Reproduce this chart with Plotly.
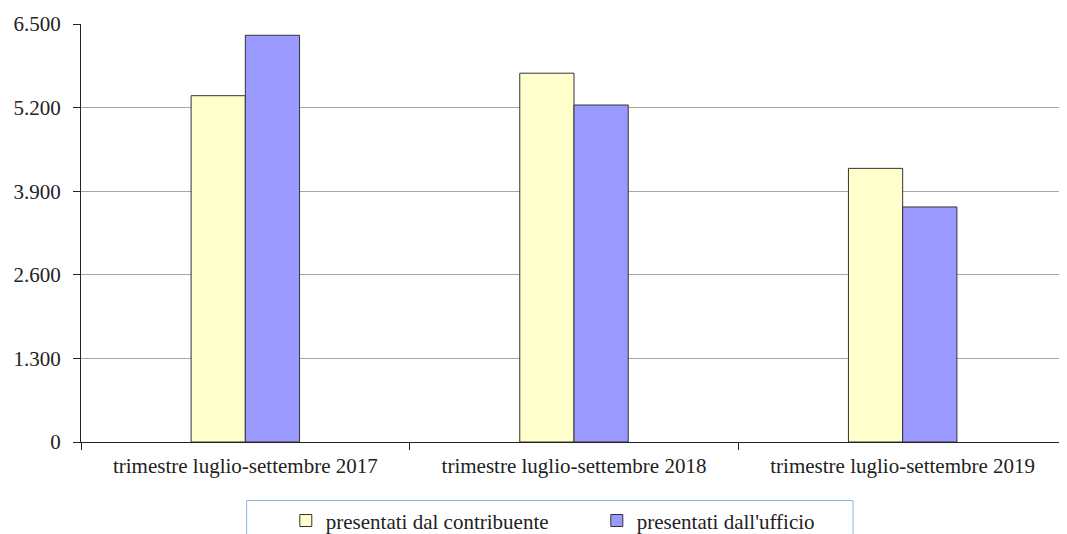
import plotly.graph_objects as go

# dati
periodi = ["trimestre luglio-settembre 2017", "trimestre luglio-settembre 2018", "trimestre luglio-settembre 2019"]
contribuente = [5385, 5735, 4255]
ufficio = [6325, 5240, 3655]
tick_vals = [0, 1300, 2600, 3900, 5200, 6500]

font_serif = "'Liberation Serif', 'DejaVu Serif', serif"

fig = go.Figure()
fig.add_trace(go.Bar(x=periodi, y=contribuente, name="presentati dal contribuente",
                     marker=dict(color="#FFFFCC", line=dict(color="#333333", width=1))))
fig.add_trace(go.Bar(x=periodi, y=ufficio, name="presentati dall'ufficio",
                     marker=dict(color="#9999FF", line=dict(color="#333333", width=1))))

# la pagina ha un margine di 8px, quindi la figura è un po' più piccola
fig.update_layout(
    width=1059, height=526,
    margin=dict(l=73, r=0, t=16, b=92),
    plot_bgcolor="white", paper_bgcolor="white",
    barmode="group", bargap=0.67, bargroupgap=0,
    separators=",.",
    font=dict(family=font_serif, size=21, color="#222222"),
    showlegend=True,
    legend=dict(orientation="h", xref="container", yref="container",
                x=0.556, xanchor="center", y=0.025, yanchor="middle",
                font=dict(family=font_serif, size=21), bgcolor="rgba(0,0,0,0)", itemwidth=30,
                entrywidth=266, traceorder="normal"),
    shapes=[dict(type="rect", xref="paper", yref="paper", x0=0.168, x1=0.783, y0=-0.14, y1=-0.32,
                 line=dict(color="#8EB4E3", width=1))],
)
fig.update_xaxes(showgrid=False, showline=True, linecolor="#222222", linewidth=1,
                 ticks="outside", tickson="boundaries", ticklen=7, tickcolor="#222222",
                 ticklabelstandoff=5)
fig.update_yaxes(range=[0, 6500], tickvals=tick_vals, tickformat=",d",
                 showgrid=True, gridcolor="#A6A6A6", gridwidth=1,
                 showline=True, linecolor="#222222", linewidth=1,
                 ticks="outside", ticklen=7, tickcolor="#222222", zeroline=False,
                 ticklabelstandoff=8)

fig.write_html("out.html")
